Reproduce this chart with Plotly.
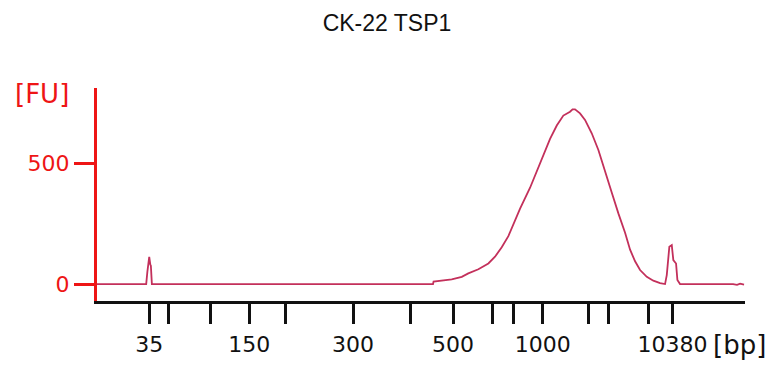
import plotly.graph_objects as go

# Ladder fragments (bp) and their migration times (s)
ladder_bp = [35, 50, 100, 150, 200, 300, 400, 500, 600, 700, 1000, 2000, 3000, 7000, 10380]
ladder_time = [43.0, 45.4, 50.9, 55.8, 60.4, 69.1, 76.5, 81.9, 86.9, 89.7, 93.4, 99.3, 101.8, 106.9, 110.0]
labeled_bp = [35, 150, 300, 500, 1000, 10380]

# Electropherogram trace: migration time (s) vs fluorescence (FU)
time_s = [
    36.3, 42.6, 42.75, 42.88, 42.99, 43.13, 43.20, 43.33,
    79.34, 79.41, 81.74, 83.02, 83.86, 85.15, 86.43, 87.28, 88.14, 88.99,
    89.63, 90.49, 91.77, 92.63, 93.47, 94.33, 95.19, 96.03, 96.89, 97.21,
    97.53, 98.17, 98.81, 99.67, 100.52, 101.37, 102.23, 103.08, 103.94,
    104.58, 105.22, 105.86, 106.72, 107.56, 108.42, 109.06, 109.28, 109.61,
    109.92, 110.12, 110.47, 110.64, 110.98, 117.77, 118.28, 118.67, 119.18,
]
fu = [
    0, 0, 50, 90, 112, 80, 76, 0,
    0, 10, 19, 30, 44, 61, 85, 113, 152, 198,
    245, 312, 398, 468, 538, 600, 655, 696, 712, 722,
    722, 705, 678, 623, 554, 471, 378, 292, 212,
    142, 94, 58, 30, 14, 4, 0, 37, 154,
    161, 99, 85, 17, 0, 0, -3, 2, -2,
]

RED = "#ee1515"
TRACE = "#c3305b"
FONT = "DejaVu Sans"

fig = go.Figure()
fig.add_trace(go.Scatter(
    x=time_s, y=fu, mode="lines",
    line=dict(color=TRACE, width=1.8),
    showlegend=False, hoverinfo="skip",
))

ticktext = [str(b) if b in labeled_bp else "" for b in ladder_bp]

fig.update_layout(
    width=774, height=365,
    margin=dict(l=97, r=29, t=88, b=64),
    paper_bgcolor="white", plot_bgcolor="white",
    title=dict(
        text="CK-22 TSP1", x=0.5, xref="container", xanchor="center",
        y=1 - 22.5 / 365, yref="container", yanchor="middle",
        font=dict(family="Liberation Sans, Arial", size=23, color="#111111"),
    ),
    xaxis=dict(
        range=[36.3, 119.3], automargin=False,
        tickmode="array", tickvals=ladder_time, ticktext=ticktext,
        ticks="outside", ticklen=20, tickwidth=2.5, tickcolor="#111111",
        ticklabelstandoff=2,
        showline=True, linecolor="#111111", linewidth=2.5,
        showgrid=False, zeroline=False,
        tickfont=dict(family=FONT, size=22, color="#111111"),
    ),
    yaxis=dict(
        range=[-70, 810], automargin=False,
        tickmode="array", tickvals=[0, 500], ticktext=["0", "500"],
        ticks="outside", ticklen=20, tickwidth=2.5, tickcolor=RED,
        showline=True, linecolor=RED, linewidth=3,
        showgrid=False, zeroline=False,
        tickfont=dict(family=FONT, size=22, color=RED),
    ),
    annotations=[
        dict(text="[FU]", xref="paper", yref="paper",
             x=(42 - 97) / 648, y=(301 - 94) / 213,
             xanchor="center", yanchor="middle", showarrow=False,
             font=dict(family=FONT, size=26, color=RED)),
        dict(text="[bp]", xref="paper", yref="paper",
             x=(739 - 97) / 648, y=(301 - 345) / 213,
             xanchor="center", yanchor="middle", showarrow=False,
             font=dict(family=FONT, size=26, color="#111111")),
    ],
)

fig.write_html("out.html")
